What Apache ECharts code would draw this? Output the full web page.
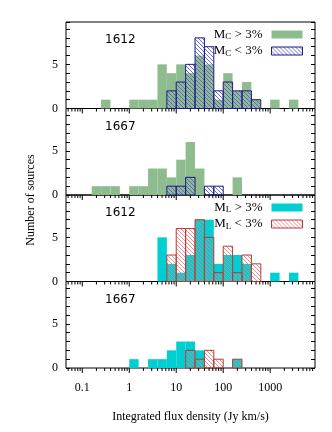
<!DOCTYPE html>
<html>
<head>
<meta charset="utf-8">
<script src="https://cdn.jsdelivr.net/npm/echarts@6/dist/echarts.min.js"></script>
<style>
html, body { margin: 0; padding: 0; background: #fff; }
#chart { width: 332px; height: 432px; }
</style>
</head>
<body>
<div id="chart"></div>
<script>
// bins: log10 of the lower edge, 0.2 dex wide
var binStart = [-0.8, -0.6, -0.4, -0.2, 0.0, 0.2, 0.4, 0.6, 0.8, 1.0, 1.2, 1.4, 1.6, 1.8, 2.0, 2.2, 2.4, 2.6, 2.8, 3.0, 3.2, 3.4];
var binWidth = 0.2;

// counts per bin
var mcHigh1612 = [0, 1, 0, 0, 1, 1, 1, 5, 4, 5, 4, 6, 5, 1, 4, 2, 3, 1, 0, 1, 0, 1];
var mcLow1612  = [0, 0, 0, 0, 0, 0, 0, 0, 2, 3, 5, 8, 7, 2, 3, 2, 2, 1, 0, 0, 0, 0];
var mcHigh1667 = [1, 1, 1, 0, 1, 1, 3, 3, 2, 4, 6, 3, 0, 0, 0, 2, 0, 0, 0, 0, 0, 0];
var mcLow1667  = [0, 0, 0, 0, 0, 0, 0, 0, 1, 1, 2, 0, 1, 1, 0, 0, 0, 0, 0, 0, 0, 0];
var mlHigh1612 = [0, 0, 0, 0, 0, 0, 0, 5, 2, 1, 3, 7, 7, 2, 3, 3, 2, 0, 0, 1, 0, 1];
var mlLow1612  = [0, 0, 0, 0, 0, 0, 0, 0, 3, 6, 6, 7, 5, 1, 4, 1, 3, 2, 0, 0, 0, 0];
var mlHigh1667 = [0, 0, 0, 0, 1, 0, 1, 1, 2, 3, 3, 2, 0, 0, 0, 1, 0, 0, 0, 0, 0, 0];
var mlLow1667  = [0, 0, 0, 0, 0, 0, 0, 0, 0, 0, 2, 1, 2, 1, 0, 1, 0, 0, 0, 0, 0, 0];

var panelNames = ['1612', '1667', '1612', '1667'];
var xTickLabels = [0.1, 1, 10, 100, 1000];
var xMinorTicks = [0.05, 0.06, 0.07, 0.08, 0.09,
    0.2, 0.3, 0.4, 0.5, 0.6, 0.7, 0.8, 0.9,
    2, 3, 4, 5, 6, 7, 8, 9,
    20, 30, 40, 50, 60, 70, 80, 90,
    200, 300, 400, 500, 600, 700, 800, 900,
    2000, 3000, 4000, 5000, 6000, 7000, 8000];
var yTickLabels = [0, 5];

var legendText = {
    mcHigh: 'M{s|C} > 3%',
    mcLow: 'M{s|C} < 3%',
    mlHigh: 'M{s|L} > 3%',
    mlLow: 'M{s|L} < 3%'
};

var green = '#8fbc8f';
var cyan = '#00ced1';
var blueLine = '#5a5ad2', blueEdge = '#1c1c80';
var redLine = '#e88484', redEdge = '#b83838';

function hatch(color) {
    var c = document.createElement('canvas');
    c.width = 4; c.height = 4;
    var g = c.getContext('2d');
    g.strokeStyle = color;
    g.lineWidth = 0.9;
    g.beginPath();
    g.moveTo(0, 0); g.lineTo(4, 4);
    g.moveTo(-1, 3); g.lineTo(1, 5);
    g.moveTo(3, -1); g.lineTo(5, 1);
    g.stroke();
    return { image: c, repeat: 'repeat' };
}
var bluePattern = hatch(blueLine);
var redPattern = hatch(redLine);

var top0 = 22, ph = 86.5;
var xMin = 0.045, xMax = 9000;

function barSeries(name, counts, p, fill, edge, z) {
    var data = [];
    binStart.forEach(function (b, i) {
        if (counts[i] > 0) data.push([Math.pow(10, b), Math.pow(10, b + binWidth), counts[i]]);
    });
    return {
        type: 'custom', name: name, xAxisIndex: p, yAxisIndex: p * 2, z: z,
        data: data, encode: { x: [0, 1], y: 2 },
        renderItem: function (params, api) {
            var a = api.coord([api.value(0), 0]);
            var b = api.coord([api.value(1), api.value(2)]);
            return {
                type: 'rect',
                shape: { x: a[0], y: b[1], width: b[0] - a[0], height: a[1] - b[1] },
                style: { fill: fill, stroke: edge || null, lineWidth: edge ? 1 : 0 }
            };
        }
    };
}

function tickSeries(p) {
    var data = [];
    xTickLabels.forEach(function (v) { data.push([v, 5]); });
    xMinorTicks.forEach(function (v) { data.push([v, 3]); });
    return {
        type: 'custom', xAxisIndex: p, yAxisIndex: p * 2, z: 5, silent: true,
        data: data, encode: { x: 0 },
        renderItem: function (params, api) {
            var a = api.coord([api.value(0), 0]);
            return {
                type: 'line',
                shape: { x1: a[0], y1: a[1], x2: a[0], y2: a[1] + api.value(1) },
                style: { stroke: '#000', lineWidth: 1 }
            };
        }
    };
}

var grids = [], xAxes = [], yAxes = [], graphics = [];
for (var p = 0; p < 4; p++) {
    grids.push({
        left: 66, right: 17, top: top0 + p * ph, height: ph,
        show: true, borderColor: '#000', borderWidth: 1, backgroundColor: 'transparent'
    });
    xAxes.push({
        type: 'log', gridIndex: p, min: xMin, max: xMax,
        axisLine: { show: false }, axisTick: { show: false }, splitLine: { show: false },
        axisLabel: {
            show: p === 3, margin: 14, fontFamily: 'Liberation Serif', fontSize: 12, color: '#000',
            showMinLabel: false, showMaxLabel: false,
            formatter: function (v) {
                for (var i = 0; i < xTickLabels.length; i++) {
                    if (Math.abs(v / xTickLabels[i] - 1) < 1e-6) return String(xTickLabels[i]);
                }
                return '';
            }
        },
        name: p === 3 ? 'Integrated flux density (Jy km/s)' : '',
        nameLocation: 'middle', nameGap: 43,
        nameTextStyle: { fontFamily: 'Liberation Serif', fontSize: 12, color: '#000' }
    });
    [false, true].forEach(function (right) {
        yAxes.push({
            type: 'value', gridIndex: p, min: 0, max: 9.8, interval: 1,
            position: right ? 'right' : 'left',
            axisLine: { show: false }, splitLine: { show: false },
            axisTick: { show: true, inside: true, length: 4, lineStyle: { color: '#000' } },
            axisLabel: {
                show: !right, margin: 8, fontFamily: 'Liberation Serif', fontSize: 12, color: '#000',
                formatter: function (v) { return yTickLabels.indexOf(v) >= 0 ? String(v) : ''; }
            }
        });
    });
    graphics.push({
        type: 'text', left: 105, top: top0 + p * ph + 12,
        style: { text: panelNames[p], font: '12px "DejaVu Sans"', fill: '#000' }
    });
}
graphics.push({
    type: 'text', x: 31, y: 200, rotation: Math.PI / 2,
    style: { text: 'Number of sources', font: '12px "Liberation Serif"', fill: '#000', align: 'center', verticalAlign: 'middle' }
});

var series = [
    barSeries('mcHigh', mcHigh1612, 0, green, null, 1),
    barSeries('mcLow', mcLow1612, 0, bluePattern, blueEdge, 2),
    barSeries('mcHigh', mcHigh1667, 1, green, null, 1),
    barSeries('mcLow', mcLow1667, 1, bluePattern, blueEdge, 2),
    barSeries('mlHigh', mlHigh1612, 2, cyan, null, 1),
    barSeries('mlLow', mlLow1612, 2, redPattern, redEdge, 2),
    barSeries('mlHigh', mlHigh1667, 3, cyan, null, 1),
    barSeries('mlLow', mlLow1667, 3, redPattern, redEdge, 2),
    tickSeries(0), tickSeries(1), tickSeries(2), tickSeries(3)
];

function legendFor(top, hiName, loName, hiColor, pat, edge) {
    return {
        orient: 'vertical', right: 29, top: top, align: 'right', padding: 0,
        itemWidth: 31, itemHeight: 8, itemGap: 3, selectedMode: false,
        formatter: function (n) { return legendText[n]; },
        textStyle: {
            fontFamily: 'Liberation Serif', fontSize: 13, color: '#000', padding: [0, 4, 0, 0],
            rich: { s: { fontFamily: 'Liberation Serif', fontSize: 9, color: '#000', verticalAlign: 'bottom', padding: [5, 0, 0, 0] } }
        },
        data: [
            { name: hiName, icon: 'rect', itemStyle: { color: hiColor, borderWidth: 0 } },
            { name: loName, icon: 'rect', itemStyle: { color: pat, borderColor: edge, borderWidth: 1 } }
        ]
    };
}

var chart = echarts.init(document.getElementById('chart'));
chart.setOption({
    animation: false,
    backgroundColor: '#fff',
    grid: grids,
    xAxis: xAxes,
    yAxis: yAxes,
    legend: [
        legendFor(28, 'mcHigh', 'mcLow', green, bluePattern, blueEdge),
        legendFor(28 + 2 * ph, 'mlHigh', 'mlLow', cyan, redPattern, redEdge)
    ],
    graphic: graphics,
    series: series
});
</script>
</body>
</html>
